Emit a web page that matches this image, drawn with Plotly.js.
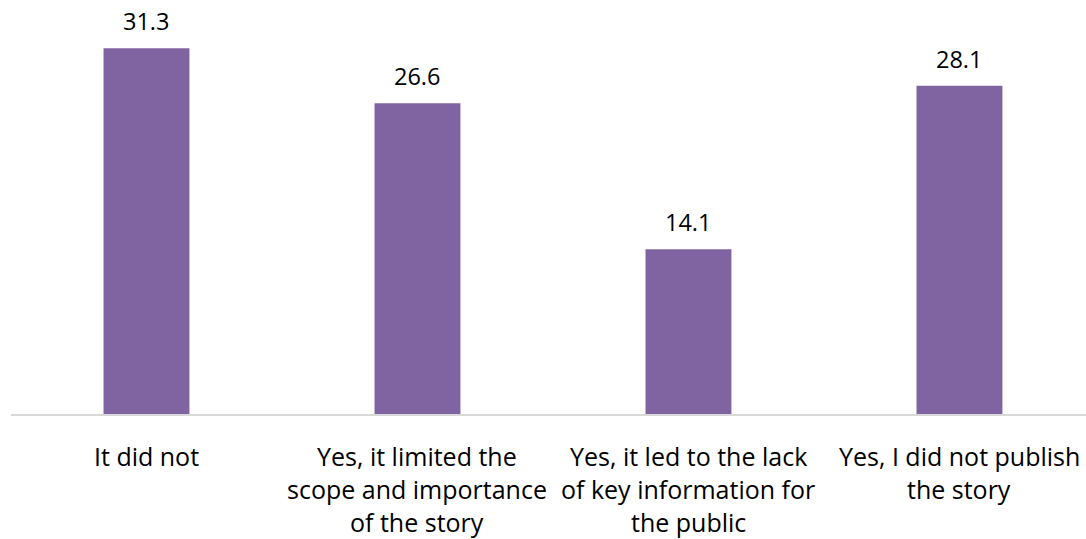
<!DOCTYPE html>
<html>
<head>
<meta charset="utf-8">
<script src="https://cdn.plot.ly/plotly-3.0.1.min.js"></script>
<style>
  html, body { margin: 0; padding: 0; background: #ffffff; }
  #chart { width: 1086px; height: 539px; }
</style>
</head>
<body>
<div id="chart"></div>
<script>
const categories = [
  "It did not",
  "Yes, it limited the<br>scope and importance<br>of the story",
  "Yes, it led to the lack<br>of key information for<br>the public",
  "Yes, I did not publish<br>the story"
];
const values = [31.3, 26.6, 14.1, 28.1];
const valueLabels = ["31.3", "26.6", "14.1", "28.1"];

const FONT = "'Open Sans', 'Noto Sans', sans-serif";
const FS_CAT = 25;
const FS_VAL = 23.5;
const xIdx = categories.map((_, i) => i);

const annotations = [];
// value labels
values.forEach((v, i) => {
  annotations.push({
    x: xIdx[i], y: v, xref: 'x', yref: 'y',
    text: valueLabels[i], showarrow: false,
    yanchor: 'middle', yshift: 27,
    font: { family: FONT, size: FS_VAL, color: '#000000' }
  });
});
// category labels, one annotation per line for Excel-like spacing
categories.forEach((c, i) => {
  c.split('<br>').forEach((line, j) => {
    annotations.push({
      x: xIdx[i], y: 0, xref: 'x', yref: 'paper',
      text: line, showarrow: false,
      yanchor: 'middle', yshift: -42 - 33 * j,
      font: { family: FONT, size: FS_CAT, color: '#000000' }
    });
  });
});

const trace = {
  type: 'bar',
  x: xIdx,
  y: values,
  marker: { color: '#8064a2' },
  hoverinfo: 'skip'
};

const layout = {
  width: 1086, height: 539,
  margin: { l: 11, r: 0, t: 5, b: 125 },
  paper_bgcolor: '#ffffff',
  plot_bgcolor: '#ffffff',
  bargap: 0.683,
  showlegend: false,
  xaxis: {
    range: [-0.5, 3.467],
    showticklabels: false,
    ticks: '',
    showgrid: false,
    zeroline: false,
    showline: true,
    linecolor: '#d9d9d9',
    linewidth: 2,
    fixedrange: true
  },
  yaxis: {
    range: [0, 35],
    visible: false,
    showgrid: false,
    zeroline: false,
    fixedrange: true
  },
  annotations: annotations
};

Plotly.newPlot('chart', [trace], layout, { displayModeBar: false, staticPlot: true });
</script>
</body>
</html>
